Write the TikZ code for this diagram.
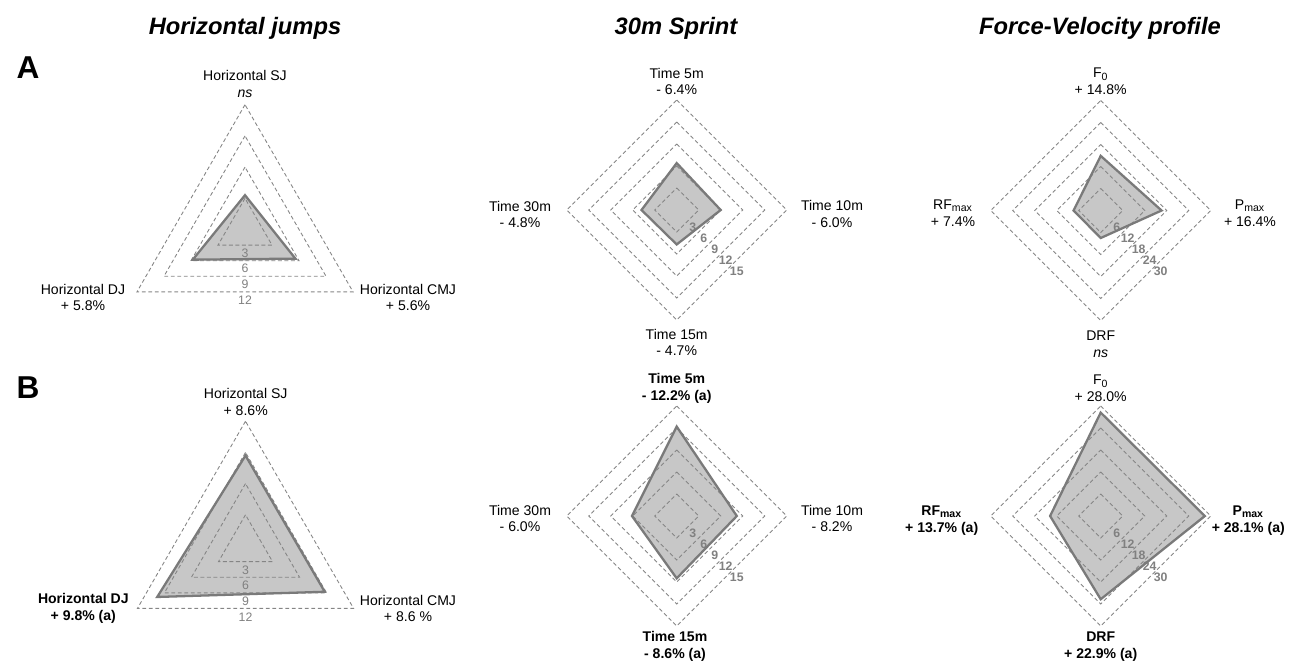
\documentclass[tikz,border=0pt]{standalone}
\usepackage{fontspec}
\setmainfont{Liberation Sans}
\begin{document}
\begin{tikzpicture}[x=0.02cm,y=-0.02cm,
    grid/.style={draw=black!48,dash pattern=on 2.2pt off 1.5pt,line width=0.5pt},
    datafill/.style={fill=black!22},
    dataline/.style={draw=black!52,line width=1.3pt,line join=miter},
    axlbl/.style={align=center,font=\fontsize{8}{9.6}\selectfont,inner sep=0pt},
    scl/.style={text=black!50,font=\fontsize{7}{8}\selectfont,inner sep=0pt},
    sclb/.style={scl,font=\fontsize{7}{8}\selectfont\bfseries},
    ttl/.style={font=\fontsize{13.5}{16}\selectfont\bfseries\itshape},
    panel/.style={font=\fontsize{18}{20}\selectfont\bfseries}]
\useasboundingbox (0,0) rectangle (1298,667);
\node[ttl] (ttljumps) at (245,28) {Horizontal jumps};
\node[ttl] (ttlsprint) at (676,28) {30m Sprint};
\node[ttl] (ttlfv) at (1100,28) {Force-Velocity profile};
\node[panel] (panA) at (28,68) {A};
\node[panel] (panB) at (28,388) {B};
% A: horizontal jumps
\begin{scope}[shift={(245,229.5)},y=0.02cm]
\fill[datafill] (90:3.3*10.4) -- (210:5.8*10.4) -- (330:5.6*10.4) -- cycle;
\foreach \l in {3,6,9,12} {
  \draw[grid] (90:\l*10.4) -- (210:\l*10.4) -- (330:\l*10.4) -- cycle;
  \node[scl] (sclA\l) at (0,-5.2*\l-8) {\l};
}
\draw[dataline] (90:3.3*10.4) -- (210:5.8*10.4) -- (330:5.6*10.4) -- cycle;
\end{scope}
\node[axlbl] (hsjA) at (245,84) {Horizontal SJ\\\textit{ns}};
\node[axlbl] (hdjA) at (83,297.5) {Horizontal DJ\\+ 5.8\%};
\node[axlbl] (hcmjA) at (408,297.5) {Horizontal CMJ\\+ 5.6\%};
% A: sprint
\begin{scope}[shift={(676.7,210)},y=0.02cm]
\fill[datafill] (90:6.4*7.33) -- (0:6.0*7.33) -- (270:4.7*7.33) -- (180:4.8*7.33) -- cycle;
\foreach \l in {3,6,9,12,15} {
  \draw[grid] (90:\l*7.33) -- (0:\l*7.33) -- (270:\l*7.33) -- (180:\l*7.33) -- cycle;
  \node[sclb] (sclS\l) at (\l*3.67+5,-\l*3.67-6) {\l};
}
\draw[dataline] (90:6.4*7.33) -- (0:6.0*7.33) -- (270:4.7*7.33) -- (180:4.8*7.33) -- cycle;
\end{scope}
\node[axlbl] (t5A) at (676.7,81.5) {Time 5m\\- 6.4\%};
\node[axlbl] (t10A) at (832,214) {Time 10m\\- 6.0\%};
\node[axlbl] (t15A) at (676.7,342.5) {Time 15m\\- 4.7\%};
\node[axlbl] (t30A) at (520,214.5) {Time 30m\\- 4.8\%};
% A: force-velocity
\begin{scope}[shift={(1100.7,210.5)},y=0.02cm]
\fill[datafill] (90:14.9*3.667) -- (0:16.6*3.667) -- (270:7.5*3.667) -- (180:7.4*3.667) -- cycle;
\foreach \l in {6,12,18,24,30} {
  \draw[grid] (90:\l*3.667) -- (0:\l*3.667) -- (270:\l*3.667) -- (180:\l*3.667) -- cycle;
  \node[sclb] (sclF\l) at (\l*1.833+5,-\l*1.833-6) {\l};
}
\draw[dataline] (90:14.9*3.667) -- (0:16.6*3.667) -- (270:7.5*3.667) -- (180:7.4*3.667) -- cycle;
\end{scope}
\node[axlbl] (f0A) at (1100.7,81.5) {F\textsubscript{0}\\+ 14.8\%};
\node[axlbl] (pmaxA) at (1250,213.5) {P\textsubscript{max}\\+ 16.4\%};
\node[axlbl] (drfA) at (1100.7,344) {DRF\\\textit{ns}};
\node[axlbl] (rfmaxA) at (953,213.5) {RF\textsubscript{max}\\+ 7.4\%};
% B: horizontal jumps
\begin{scope}[shift={(245.5,546)},y=0.02cm]
\fill[datafill] (90:8.7*10.4) -- (210:9.8*10.4) -- (330:8.8*10.4) -- cycle;
\foreach \l in {3,6,9,12} {
  \draw[grid] (90:\l*10.4) -- (210:\l*10.4) -- (330:\l*10.4) -- cycle;
  \node[scl] (sclB\l) at (0,-5.2*\l-8.5) {\l};
}
\draw[dataline] (90:8.7*10.4) -- (210:9.8*10.4) -- (330:8.8*10.4) -- cycle;
\end{scope}
\node[axlbl] (hsjB) at (245.7,401.7) {Horizontal SJ\\+ 8.6\%};
\node[axlbl,font=\fontsize{8}{9.6}\selectfont\bfseries] (hdjB) at (83.3,608.5) {Horizontal DJ\\+ 9.8\% (a)};
\node[axlbl] (hcmjB) at (408,608.5) {Horizontal CMJ\\+ 8.6 \%};
% B: sprint
\begin{scope}[shift={(676.7,516)},y=0.02cm]
\fill[datafill] (90:12.2*7.33) -- (0:8.2*7.33) -- (270:8.5*7.33) -- (180:6.1*7.33) -- cycle;
\foreach \l in {3,6,9,12,15} {
  \draw[grid] (90:\l*7.33) -- (0:\l*7.33) -- (270:\l*7.33) -- (180:\l*7.33) -- cycle;
  \node[sclb] (sclT\l) at (\l*3.67+5,-\l*3.67-6) {\l};
}
\draw[dataline] (90:12.2*7.33) -- (0:8.2*7.33) -- (270:8.5*7.33) -- (180:6.1*7.33) -- cycle;
\end{scope}
\node[axlbl,font=\fontsize{8}{9.6}\selectfont\bfseries] (t5B) at (676.7,388.5) {Time 5m\\- 12.2\% (a)};
\node[axlbl] (t10B) at (832,518.5) {Time 10m\\- 8.2\%};
\node[axlbl,font=\fontsize{8}{9.6}\selectfont\bfseries] (t15B) at (675,646.7) {Time 15m\\- 8.6\% (a)};
\node[axlbl] (t30B) at (520,518.5) {Time 30m\\- 6.0\%};
% B: force-velocity
\begin{scope}[shift={(1100.7,516)},y=0.02cm]
\fill[datafill] (90:28.2*3.667) -- (0:28.4*3.667) -- (270:22.7*3.667) -- (180:13.8*3.667) -- cycle;
\foreach \l in {6,12,18,24,30} {
  \draw[grid] (90:\l*3.667) -- (0:\l*3.667) -- (270:\l*3.667) -- (180:\l*3.667) -- cycle;
  \node[sclb] (sclV\l) at (\l*1.833+5,-\l*1.833-6) {\l};
}
\draw[dataline] (90:28.2*3.667) -- (0:28.4*3.667) -- (270:22.7*3.667) -- (180:13.8*3.667) -- cycle;
\end{scope}
\node[axlbl] (f0B) at (1100.7,388.5) {F\textsubscript{0}\\+ 28.0\%};
\node[axlbl,font=\fontsize{8}{9.6}\selectfont\bfseries] (pmaxB) at (1248.3,520.5) {P\textsubscript{max}\\+ 28.1\% (a)};
\node[axlbl,font=\fontsize{8}{9.6}\selectfont\bfseries] (drfB) at (1100.7,646.7) {DRF\\+ 22.9\% (a)};
\node[axlbl,font=\fontsize{8}{9.6}\selectfont\bfseries] (rfmaxB) at (941.7,520.5) {RF\textsubscript{max}\\+ 13.7\% (a)};
\end{tikzpicture}
\end{document}
